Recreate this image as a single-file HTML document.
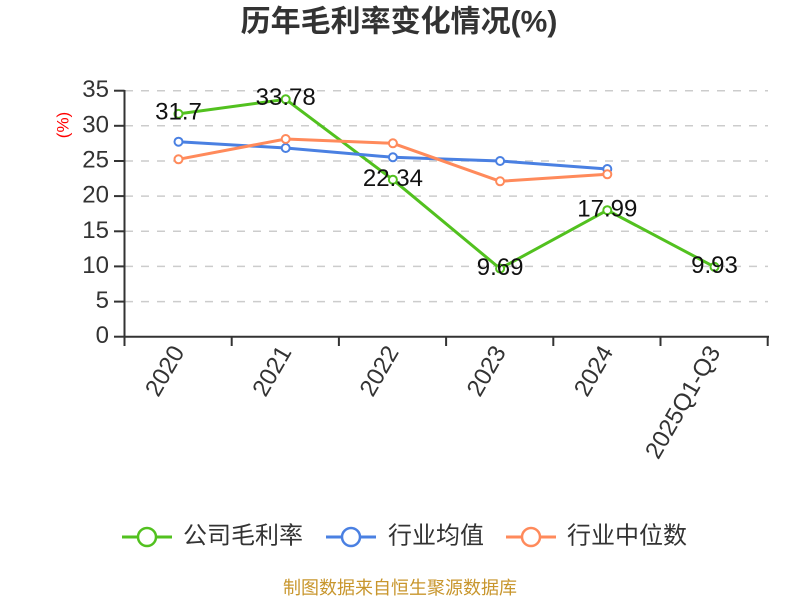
<!DOCTYPE html>
<html>
<head>
<meta charset="utf-8">
<style>
  html, body { margin: 0; padding: 0; background: #ffffff; }
  body { width: 800px; height: 600px; overflow: hidden; }
  svg { display: block; }
</style>
</head>
<body>
<svg width="800" height="600" viewBox="0 0 800 600" xmlns="http://www.w3.org/2000/svg">
  <rect x="0" y="0" width="800" height="600" fill="#ffffff"/>

  <!-- Title -->
  <text x="399" y="22" text-anchor="middle" dominant-baseline="central" font-family="'Liberation Sans', 'Noto Sans CJK SC', sans-serif" font-size="30" font-weight="bold" fill="#333333">历年毛利率变化情况(%)</text>

  <!-- Y axis name -->
  <text x="0" y="0" transform="translate(63,125) rotate(-90)" text-anchor="middle" dominant-baseline="central" font-family="'Liberation Sans', sans-serif" font-size="17" fill="#ff0000">(%)</text>

  <!-- Grid lines -->
  <g stroke="#cccccc" stroke-width="1.5" stroke-dasharray="8,8">
    <line x1="125" y1="90.7" x2="768" y2="90.7"/>
    <line x1="125" y1="125.8" x2="768" y2="125.8"/>
    <line x1="125" y1="161" x2="768" y2="161"/>
    <line x1="125" y1="196.1" x2="768" y2="196.1"/>
    <line x1="125" y1="231.3" x2="768" y2="231.3"/>
    <line x1="125" y1="266.4" x2="768" y2="266.4"/>
    <line x1="125" y1="301.6" x2="768" y2="301.6"/>
  </g>

  <!-- Axes -->
  <g stroke="#333333" stroke-width="2" fill="none">
    <line x1="124.5" y1="90" x2="124.5" y2="337"/>
    <line x1="124" y1="336.7" x2="769" y2="336.7"/>
    <!-- y ticks -->
    <line x1="114" y1="90.7" x2="124.5" y2="90.7"/>
    <line x1="114" y1="125.8" x2="124.5" y2="125.8"/>
    <line x1="114" y1="161" x2="124.5" y2="161"/>
    <line x1="114" y1="196.1" x2="124.5" y2="196.1"/>
    <line x1="114" y1="231.3" x2="124.5" y2="231.3"/>
    <line x1="114" y1="266.4" x2="124.5" y2="266.4"/>
    <line x1="114" y1="301.6" x2="124.5" y2="301.6"/>
    <line x1="114" y1="336.7" x2="124.5" y2="336.7"/>
    <!-- x ticks -->
    <line x1="124.5" y1="336.7" x2="124.5" y2="346"/>
    <line x1="231.7" y1="336.7" x2="231.7" y2="346"/>
    <line x1="338.9" y1="336.7" x2="338.9" y2="346"/>
    <line x1="446.1" y1="336.7" x2="446.1" y2="346"/>
    <line x1="553.3" y1="336.7" x2="553.3" y2="346"/>
    <line x1="660.5" y1="336.7" x2="660.5" y2="346"/>
    <line x1="767.7" y1="336.7" x2="767.7" y2="346"/>
  </g>

  <!-- Y tick labels -->
  <g font-family="'Liberation Sans', sans-serif" font-size="24" fill="#333333" text-anchor="end" dominant-baseline="central">
    <text x="109" y="89.7">35</text>
    <text x="109" y="124.8">30</text>
    <text x="109" y="160">25</text>
    <text x="109" y="195.1">20</text>
    <text x="109" y="230.3">15</text>
    <text x="109" y="265.4">10</text>
    <text x="109" y="300.6">5</text>
    <text x="109" y="335.7">0</text>
  </g>

  <!-- X tick labels -->
  <g font-family="'Liberation Sans', sans-serif" font-size="24" fill="#333333" text-anchor="end" dominant-baseline="central">
    <text x="178.5" y="348" transform="rotate(-60 178.5 348)">2020</text>
    <text x="285.7" y="348" transform="rotate(-60 285.7 348)">2021</text>
    <text x="392.9" y="348" transform="rotate(-60 392.9 348)">2022</text>
    <text x="500.1" y="348" transform="rotate(-60 500.1 348)">2023</text>
    <text x="607.3" y="348" transform="rotate(-60 607.3 348)">2024</text>
    <text x="714.5" y="348" transform="rotate(-60 714.5 348)">2025Q1-Q3</text>
  </g>

  <!-- Series: company gross margin -->
  <polyline points="178.5,113.9 285.7,99.3 392.9,179.7 500.1,268.6 607.3,210.2 714.5,266.9" fill="none" stroke="#52c11f" stroke-width="3" stroke-linejoin="round"/>
  <!-- Series: industry average -->
  <polyline points="178.5,141.7 285.7,148 392.9,157.3 500.1,161 607.3,169" fill="none" stroke="#4a80e2" stroke-width="3" stroke-linejoin="round"/>
  <!-- Series: industry median -->
  <polyline points="178.5,159.3 285.7,139 392.9,143.3 500.1,181.3 607.3,174.3" fill="none" stroke="#ff8a5b" stroke-width="3" stroke-linejoin="round"/>

  <!-- Markers -->
  <g fill="#ffffff" stroke="#52c11f" stroke-width="2">
    <circle cx="178.5" cy="113.9" r="4"/>
    <circle cx="285.7" cy="99.3" r="4"/>
    <circle cx="392.9" cy="179.7" r="4"/>
    <circle cx="500.1" cy="268.6" r="4"/>
    <circle cx="607.3" cy="210.2" r="4"/>
    <circle cx="714.5" cy="266.9" r="4"/>
  </g>
  <g fill="#ffffff" stroke="#4a80e2" stroke-width="2">
    <circle cx="178.5" cy="141.7" r="4"/>
    <circle cx="285.7" cy="148" r="4"/>
    <circle cx="392.9" cy="157.3" r="4"/>
    <circle cx="500.1" cy="161" r="4"/>
    <circle cx="607.3" cy="169" r="4"/>
  </g>
  <g fill="#ffffff" stroke="#ff8a5b" stroke-width="2">
    <circle cx="178.5" cy="159.3" r="4"/>
    <circle cx="285.7" cy="139" r="4"/>
    <circle cx="392.9" cy="143.3" r="4"/>
    <circle cx="500.1" cy="181.3" r="4"/>
    <circle cx="607.3" cy="174.3" r="4"/>
  </g>

  <!-- Data labels -->
  <g font-family="'Liberation Sans', sans-serif" font-size="24" fill="#111111" text-anchor="middle">
    <text x="178.5" y="119.5">31.7</text>
    <text x="285.7" y="105">33.78</text>
    <text x="392.9" y="186">22.34</text>
    <text x="500.1" y="275">9.69</text>
    <text x="607.3" y="216.5">17.99</text>
    <text x="714.5" y="273">9.93</text>
  </g>

  <!-- Legend -->
  <g stroke-width="3" fill="#ffffff">
    <line x1="122" y1="537" x2="172" y2="537" stroke="#52c11f"/>
    <circle cx="147" cy="537" r="9" stroke="#52c11f" stroke-width="2.5"/>
    <line x1="326" y1="537" x2="376" y2="537" stroke="#4a80e2"/>
    <circle cx="351" cy="537" r="9" stroke="#4a80e2" stroke-width="2.5"/>
    <line x1="506" y1="537" x2="556" y2="537" stroke="#ff8a5b"/>
    <circle cx="531" cy="537" r="9" stroke="#ff8a5b" stroke-width="2.5"/>
  </g>
  <g font-family="'Liberation Sans', 'Noto Sans CJK SC', sans-serif" font-size="24" fill="#333333" dominant-baseline="central">
    <text x="183" y="536">公司毛利率</text>
    <text x="388" y="536">行业均值</text>
    <text x="567" y="536">行业中位数</text>
  </g>

  <!-- Footer -->
  <text x="400" y="588" text-anchor="middle" dominant-baseline="central" font-family="'Liberation Sans', 'Noto Sans CJK SC', sans-serif" font-size="18" fill="#c8962d">制图数据来自恒生聚源数据库</text>
</svg>
</body>
</html>
